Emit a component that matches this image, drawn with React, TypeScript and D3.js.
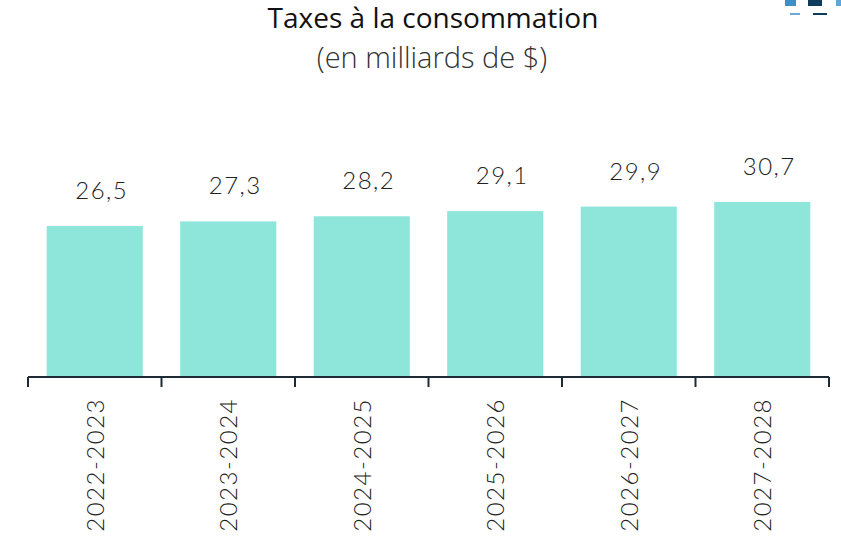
import React, { useEffect, useRef } from "react";
import * as d3 from "d3";

const categories = ["2022-2023", "2023-2024", "2024-2025", "2025-2026", "2026-2027", "2027-2028"];
const values = [26.5, 27.3, 28.2, 29.1, 29.9, 30.7];
const valueLabels = ["26,5", "27,3", "28,2", "29,1", "29,9", "30,7"];

const title = "Taxes à la consommation";
const subtitle = "(en milliards de $)";

const WIDTH = 841;
const HEIGHT = 536;
const FONT = "Lato, 'Open Sans', sans-serif";
const TITLE_FONT = "'Open Sans', Lato, sans-serif";

const App = () => {
  const svgRef = useRef<SVGSVGElement>(null);

  useEffect(() => {
    const svg = d3.select(svgRef.current);
    svg.selectAll("*").remove();

    const baseY = 377;
    const x = d3.scaleBand<string>().domain(categories).range([28, 829]).padding(0);
    const y = d3.scaleLinear().domain([0, 35]).range([baseY, baseY - 35 * 5.7]);
    const barW = x.bandwidth() * 0.72;

    // partial logo cut off at top right
    const logo = svg.append("g");
    logo.append("rect").attr("x", 785).attr("y", 0).attr("width", 11).attr("height", 6).attr("fill", "#3d8fc6");
    logo.append("rect").attr("x", 808).attr("y", 0).attr("width", 14).attr("height", 6).attr("fill", "#0e3d5c");
    logo.append("rect").attr("x", 836).attr("y", 0).attr("width", 5).attr("height", 6).attr("fill", "#5aa8d8");
    logo.append("rect").attr("x", 790).attr("y", 13).attr("width", 10).attr("height", 2).attr("fill", "#6ea7d6");
    logo.append("rect").attr("x", 813).attr("y", 13).attr("width", 14).attr("height", 2).attr("fill", "#0e3d5c");

    // titles
    svg.append("text")
      .attr("x", 433).attr("y", 28)
      .attr("text-anchor", "middle")
      .style("font-family", TITLE_FONT).style("font-size", "28px").style("font-weight", "400")
      .attr("fill", "#111")
      .text(title);
    svg.append("text")
      .attr("x", 432).attr("y", 68)
      .attr("text-anchor", "middle")
      .style("font-family", TITLE_FONT).style("font-size", "29px").style("font-weight", "300")
      .attr("fill", "#333")
      .text(subtitle);

    // bars
    svg.append("g")
      .selectAll("rect")
      .data(values)
      .join("rect")
      .attr("x", (d, i) => x(categories[i])! + (x.bandwidth() - barW) / 2)
      .attr("y", (d) => y(d))
      .attr("width", barW)
      .attr("height", (d) => y(0) - y(d))
      .attr("fill", "#8ee6da");

    // value labels
    svg.append("g")
      .selectAll("text")
      .data(values)
      .join("text")
      .attr("x", (d, i) => x(categories[i])! + x.bandwidth() / 2 + 7)
      .attr("y", (d) => y(d) - 27)
      .attr("text-anchor", "middle")
      .style("font-family", FONT).style("font-size", "24px").style("font-weight", "300")
      .style("letter-spacing", "1.5px")
      .attr("fill", "#222")
      .text((d, i) => valueLabels[i]);

    // axis
    const axis = svg.append("g").attr("stroke", "#1c2b36").attr("stroke-width", 2);
    axis.append("line").attr("x1", 28).attr("x2", 829).attr("y1", baseY).attr("y2", baseY);
    const edges = categories.map((c) => x(c)!).concat([829]);
    axis.selectAll("line.tick")
      .data(edges)
      .join("line")
      .attr("class", "tick")
      .attr("x1", (d) => d).attr("x2", (d) => d)
      .attr("y1", baseY).attr("y2", baseY + 10);

    // category labels (rotated)
    svg.append("g")
      .selectAll("text")
      .data(categories)
      .join("text")
      .attr("transform", (d) => `translate(${x(d)! + x.bandwidth() / 2 + 9},398) rotate(-90)`)
      .attr("text-anchor", "end")
      .style("font-family", FONT).style("font-size", "24px").style("font-weight", "300")
      .style("letter-spacing", "1.5px")
      .attr("fill", "#222")
      .text((d) => d);
  }, []);

  return (
    <svg
      ref={svgRef}
      width={WIDTH}
      height={HEIGHT}
      style={{ position: "absolute", left: 0, top: 0, background: "#fff" }}
    />
  );
};

export default App;
